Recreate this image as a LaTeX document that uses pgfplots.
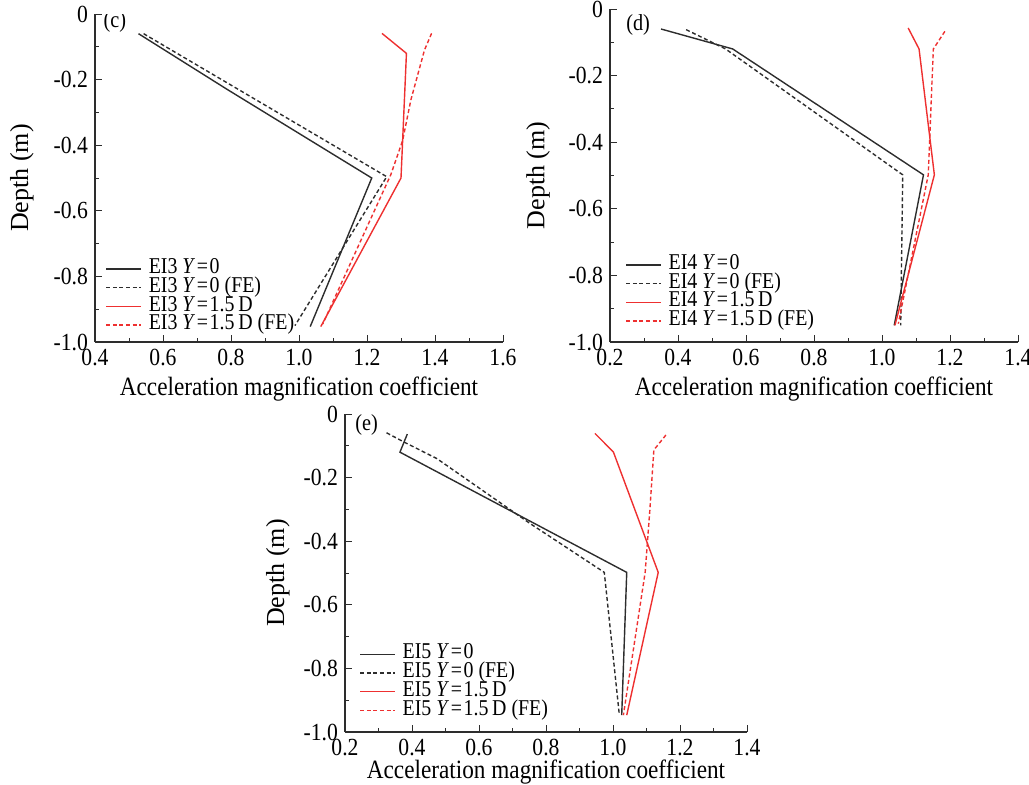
\documentclass[border=0pt]{standalone}
\usepackage{fontspec}
\setmainfont{Liberation Serif}[FakeStretch=0.88]
\newfontfamily\ylfont{Liberation Serif}
\usepackage{pgfplots}
\pgfplotsset{compat=1.18}
\definecolor{cblk}{RGB}{45,45,45}
\definecolor{cred}{RGB}{238,48,48}
\tikzset{
 s0/.style={cblk, solid},
 f0/.style={cblk, dash pattern=on 2pt off 1.3pt},
 s1/.style={cred, solid},
 f1/.style={cred, dash pattern=on 2pt off 1.3pt},
}
\pgfplotsset{
 legend image code/.code={\draw[#1, line width=0.7pt] (0pt,0pt) -- (17.5pt,0pt); \path (20.5pt,0pt);},
 panel/.style={
  scale only axis,
  axis x line*=bottom, axis y line*=left,
  tick align=inside,
  ymin=-1, ymax=0,
  ytick={-1,-0.8,-0.6,-0.4,-0.2,0},
  yticklabels={-1.0,-0.8,-0.6,-0.4,-0.2,0},
  minor x tick num=1, minor y tick num=1,
  major tick length=3.5pt, minor tick length=2pt,
  tick style={cblk, line width=0.5pt},
  axis line style={cblk, line width=0.6pt},
  ticklabel style={font=\fontsize{12.3}{13}\selectfont},
  xlabel style={font=\fontsize{13.2}{15}\selectfont},
  ylabel style={font=\ylfont\fontsize{13}{15}\selectfont},
  xlabel={Acceleration magnification coefficient},
  ylabel={Depth (m)},
  legend style={draw=none, fill=none, anchor=south west,
    font=\fontsize{11.3}{12}\selectfont, inner sep=0pt, row sep=0.05pt,
    nodes={inner sep=0.4pt, text height=6.6pt, text depth=1.9pt}},
  legend cell align=left,
  every axis plot/.append style={line width=0.7pt},
 },
}
\newcommand{\eq}{\kern0.8pt=\kern0.8pt}
\begin{document}
\begin{tikzpicture}
\useasboundingbox (0pt,0pt) rectangle (514.5pt,-392pt);
% (c)
\begin{axis}[panel, at={(47.5pt,-171pt)}, anchor=south west,
  width=204pt, height=164pt,
  xmin=0.4, xmax=1.6,
  xtick={0.4,0.6,0.8,1.0,1.2,1.4,1.6},
  xticklabels={0.4,0.6,0.8,1.0,1.2,1.4,1.6},
  xlabel style={at={(axis description cs:0.5,-0.143)}, anchor=center},
  ylabel style={at={(axis description cs:-0.179,0.5)}, anchor=center},
  legend style={at={(axis description cs:0.025,0.022)}}]
\addplot[s0] coordinates {(0.528,-0.06) (0.789,-0.23) (1.214,-0.50) (1.033,-0.953)};
\addplot[f0] coordinates {(0.543,-0.06) (1.258,-0.496) (0.988,-0.95)};
\addplot[s1] coordinates {(1.244,-0.059) (1.316,-0.12) (1.300,-0.50) (1.064,-0.953)};
\addplot[f1] coordinates {(1.390,-0.059) (1.369,-0.110) (1.329,-0.262) (1.305,-0.385) (1.270,-0.49) (1.070,-0.945)};
\legend{EI3 \textit{Y}\eq0, EI3 \textit{Y}\eq0 (FE), EI3 \textit{Y}\eq1.5\,D, EI3 \textit{Y}\eq1.5\,D (FE)}
\node[anchor=west, font=\fontsize{11.5}{12}\selectfont, inner sep=0pt] at (rel axis cs:0.02,0.975) {(c)};
\end{axis}
% (d)
\begin{axis}[panel, at={(305pt,-171pt)}, anchor=south west,
  width=204pt, height=166.5pt,
  xmin=0.2, xmax=1.4,
  xtick={0.2,0.4,0.6,0.8,1.0,1.2,1.4},
  xticklabels={0.2,0.4,0.6,0.8,1.0,1.2,1.4},
  xlabel style={at={(axis description cs:0.5,-0.141)}, anchor=center},
  ylabel style={at={(axis description cs:-0.176,0.5)}, anchor=center},
  legend style={at={(axis description cs:0.037,0.034)}}]
\addplot[s0] coordinates {(0.35,-0.06) (0.561,-0.12) (1.122,-0.498) (1.036,-0.95)};
\addplot[f0] coordinates {(0.424,-0.062) (0.54,-0.12) (1.061,-0.498) (1.055,-0.95)};
\addplot[s1] coordinates {(1.077,-0.057) (1.109,-0.12) (1.154,-0.498) (1.038,-0.95)};
\addplot[f1] coordinates {(1.185,-0.067) (1.151,-0.12) (1.136,-0.498) (1.048,-0.945)};
\legend{EI4 \textit{Y}\eq0, EI4 \textit{Y}\eq0 (FE), EI4 \textit{Y}\eq1.5\,D, EI4 \textit{Y}\eq1.5\,D (FE)}
\node[anchor=west, font=\fontsize{11.5}{12}\selectfont, inner sep=0pt] at (rel axis cs:0.039,0.953) {(d)};
\end{axis}
% (e)
\begin{axis}[panel, at={(172.5pt,-366pt)}, anchor=south west,
  width=201pt, height=159pt,
  xmin=0.2, xmax=1.4,
  xtick={0.2,0.4,0.6,0.8,1.0,1.2,1.4},
  xticklabels={0.2,0.4,0.6,0.8,1.0,1.2,1.4},
  xlabel style={at={(axis description cs:0.5,-0.126)}, anchor=center},
  ylabel style={at={(axis description cs:-0.167,0.5)}, anchor=center},
  legend style={at={(axis description cs:0.035,0.0376)}}]
\addplot[s0] coordinates {(0.386,-0.063) (0.364,-0.12) (1.041,-0.498) (1.026,-0.947)};
\addplot[f0] coordinates {(0.324,-0.059) (0.374,-0.087) (0.474,-0.140) (0.752,-0.344) (0.974,-0.498) (1.019,-0.947)};
\addplot[s1] coordinates {(0.946,-0.061) (1.001,-0.119) (1.135,-0.498) (1.041,-0.947)};
\addplot[f1] coordinates {(1.158,-0.066) (1.122,-0.113) (1.110,-0.302) (1.096,-0.498) (1.031,-0.947)};
\legend{EI5 \textit{Y}\eq0, EI5 \textit{Y}\eq0 (FE), EI5 \textit{Y}\eq1.5\,D, EI5 \textit{Y}\eq1.5\,D (FE)}
\node[anchor=west, font=\fontsize{11.5}{12}\selectfont, inner sep=0pt] at (rel axis cs:0.025,0.964) {(e)};
\end{axis}
\end{tikzpicture}
\end{document}
